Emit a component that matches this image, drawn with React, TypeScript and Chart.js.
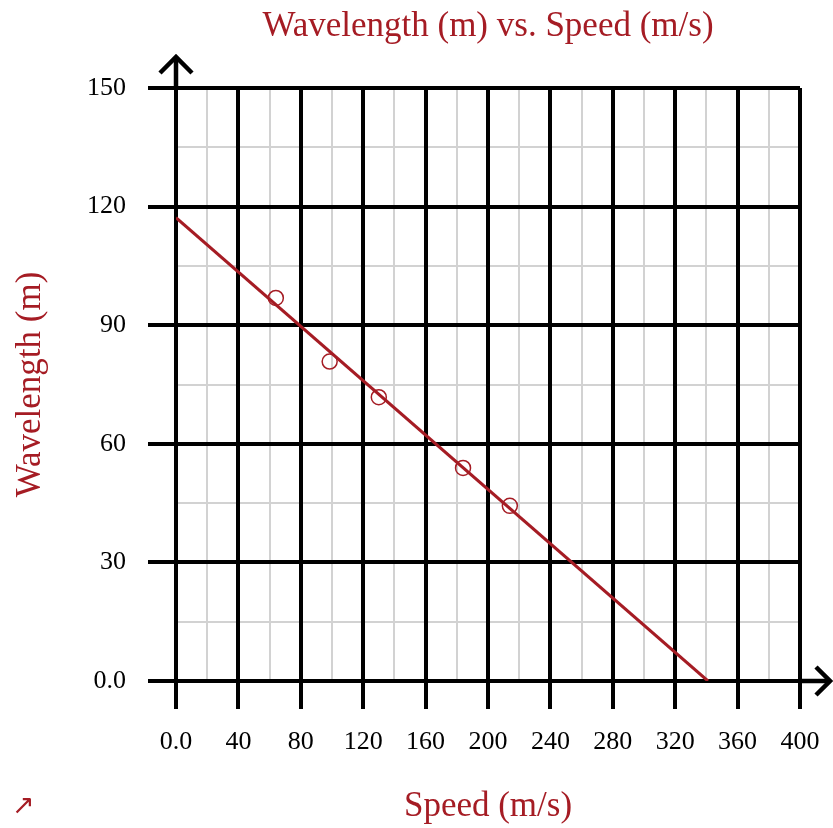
import React, { useEffect, useRef } from "react";
import { Chart, registerables } from "chart.js";

Chart.register(...registerables);

const speeds = [64, 98.5, 130, 184, 214];
const wavelengths = [96.9, 80.8, 71.8, 53.9, 44.3];
const fitX = [0, 341];
const fitY = [117.2, 0];
const xMajor = 40;
const yMajor = 30;
const chartTitle = "Wavelength (m) vs. Speed (m/s)";
const RED = "#a51c24";
const FONT = "'Liberation Serif', 'Times New Roman', serif";

const arrowPlugin = {
  id: "axisArrows",
  afterDraw(chart: any) {
    const { ctx, scales, chartArea } = chart;
    const x = scales.x;
    const y = scales.y;
    const x0 = x.getPixelForValue(0);
    const y0 = y.getPixelForValue(0);
    const xEnd = x.getPixelForValue(400);
    const yTop = y.getPixelForValue(150);
    ctx.save();
    ctx.strokeStyle = "#000";
    ctx.lineWidth = 4.5;
    ctx.lineCap = "butt";
    ctx.beginPath();
    ctx.moveTo(xEnd, y0);
    ctx.lineTo(xEnd + 30, y0);
    ctx.stroke();
    ctx.beginPath();
    ctx.moveTo(xEnd + 16, y0 - 14);
    ctx.lineTo(xEnd + 30, y0);
    ctx.lineTo(xEnd + 16, y0 + 14);
    ctx.stroke();
    ctx.beginPath();
    ctx.moveTo(x0, yTop);
    ctx.lineTo(x0, yTop - 31);
    ctx.stroke();
    ctx.beginPath();
    ctx.moveTo(x0 - 16, yTop - 15);
    ctx.lineTo(x0, yTop - 31);
    ctx.lineTo(x0 + 16, yTop - 15);
    ctx.stroke();
    // chart title centred over the plot area
    ctx.fillStyle = RED;
    ctx.font = `35px ${FONT}`;
    ctx.textAlign = "center";
    ctx.textBaseline = "middle";
    ctx.fillText(chartTitle, (chartArea.left + chartArea.right) / 2, 27);
    ctx.restore();
  },
};

export default function App() {
  const ref = useRef<HTMLCanvasElement>(null);
  useEffect(() => {
    if (!ref.current) return;
    const chart = new Chart(ref.current, {
      type: "scatter",
      data: {
        datasets: [
          {
            type: "line",
            data: fitX.map((v, i) => ({ x: v, y: fitY[i] })),
            borderColor: RED,
            borderWidth: 3,
            pointRadius: 0,
            fill: false,
          } as any,
          {
            data: speeds.map((v, i) => ({ x: v, y: wavelengths[i] })),
            pointRadius: 7.5,
            pointBorderWidth: 1.5,
            pointBackgroundColor: "rgba(0,0,0,0)",
            pointBorderColor: RED,
            showLine: false,
          },
        ],
      },
      options: {
        animation: false,
        responsive: false,
        layout: { padding: { left: 0, right: 33, top: 88, bottom: 0 } },
        plugins: {
          legend: { display: false },
          tooltip: { enabled: false },
          title: { display: false },
        },
        scales: {
          xMinor: {
            type: "linear",
            position: "bottom",
            min: 0,
            max: 400,
            z: -1,
            ticks: { display: false, stepSize: 20 },
            grid: { color: "#d2d2d2", lineWidth: 2, drawTicks: false },
            border: { display: false },
            afterFit(s: any) {
              s.height = 0;
              s.paddingLeft = 0;
              s.paddingRight = 0;
            },
          },
          yMinor: {
            type: "linear",
            position: "left",
            min: 0,
            max: 150,
            z: -1,
            ticks: { display: false, stepSize: 15 },
            grid: { color: "#d2d2d2", lineWidth: 2, drawTicks: false },
            border: { display: false },
            afterFit(s: any) {
              s.width = 0;
              s.paddingTop = 0;
              s.paddingBottom = 0;
            },
          },
          x: {
            type: "linear",
            position: "bottom",
            min: 0,
            max: 400,
            ticks: {
              stepSize: xMajor,
              autoSkip: false,
              maxRotation: 0,
              color: "#000",
              padding: 18,
              font: { family: FONT, size: 26 },
              callback: (v: any) => (v === 0 ? "0.0" : String(v)),
            },
            grid: {
              color: "#000",
              lineWidth: 4,
              tickLength: 28,
              tickWidth: 4,
              tickColor: "#000",
            },
            border: { display: false },
            title: {
              display: true,
              text: "Speed (m/s)",
              color: RED,
              font: { family: FONT, size: 35 },
              padding: { top: 0, bottom: 0 },
            },
            afterFit(s: any) {
              s.height = 147;
              s.paddingLeft = 0;
              s.paddingRight = 0;
            },
          },
          y: {
            type: "linear",
            position: "left",
            min: 0,
            max: 150,
            ticks: {
              stepSize: yMajor,
              autoSkip: false,
              color: "#000",
              padding: 22,
              font: { family: FONT, size: 26 },
              callback: (v: any) => (v === 0 ? "0.0" : String(v)),
            },
            grid: {
              color: "#000",
              lineWidth: 4,
              tickLength: 28,
              tickWidth: 4,
              tickColor: "#000",
            },
            border: { display: false },
            title: {
              display: true,
              text: "Wavelength (m)",
              color: RED,
              font: { family: FONT, size: 35 },
              padding: { top: 10, bottom: 0 },
            },
            afterFit(s: any) {
              s.width = 176;
              s.paddingTop = 0;
              s.paddingBottom = 0;
            },
          },
        },
      } as any,
      plugins: [arrowPlugin],
    });
    return () => chart.destroy();
  }, []);

  return (
    <div style={{ position: "absolute", left: 0, top: 0, width: 833, height: 828, background: "#fff" }}>
      <canvas ref={ref} width={833} height={828} style={{ width: 833, height: 828, display: "block" }} />
      <span
        style={{
          position: "absolute",
          left: 12,
          top: 788,
          color: RED,
          fontFamily: "'DejaVu Sans', sans-serif",
          fontSize: 27,
          lineHeight: "34px",
        }}
      >
        ↗
      </span>
    </div>
  );
}
